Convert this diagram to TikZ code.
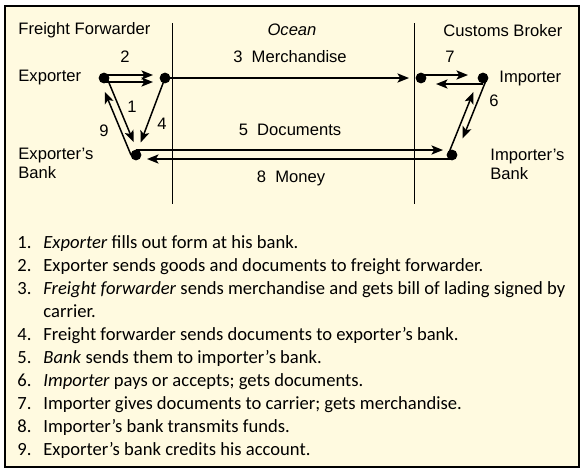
\documentclass[tikz,border=0pt]{standalone}
\usepackage{fontspec}
\setsansfont{Liberation Sans}
\newfontfamily\listfont{Carlito}
\usetikzlibrary{arrows.meta}
\definecolor{cream}{RGB}{255,250,224}

\begin{document}
\begin{tikzpicture}[
    x=0.5pt, y=-0.5pt,
    >={Stealth[length=5.8pt, width=4.6pt, inset=1.4pt]},
    dot/.style={circle, fill=black, inner sep=0pt, minimum size=5.4pt},
    flow/.style={->, line width=0.75pt},
    divider/.style={line width=0.5pt},
    heading/.style={font=\fontsize{8.3}{9.6}\selectfont\sffamily, inner sep=0pt},
    party/.style={font=\fontsize{8.3}{9.6}\selectfont\sffamily, inner sep=0pt, align=left, anchor=west},
    steplabel/.style={font=\fontsize{8.3}{9.6}\selectfont\sffamily, inner sep=0pt},
    listitem/.style={font=\fontsize{9.3}{11}\selectfont\listfont, inner sep=0pt, anchor=base west}
]
    \useasboundingbox[fill=white] (0,0) rectangle (583,472);
    \draw[line width=0.75pt, fill=cream] (5,6) rectangle (579,467);

    % column headings and dividers
    \node[heading, anchor=west] at (18,30) (ffhead) {Freight Forwarder};
    \node[heading] at (292,30) (oceanhead) {\itshape Ocean};
    \node[heading, anchor=west] at (443,31) (cbhead) {Customs Broker};
    \draw[divider] (172,23) -- (172,204);
    \draw[divider] (414,23) -- (414,204);

    % parties
    \node[dot] at (104,78) (exporter) {};
    \node[dot] at (165,78) (forwarder) {};
    \node[dot] at (136,155) (expbank) {};
    \node[dot] at (421,78) (customs) {};
    \node[dot] at (483,78) (importer) {};
    \node[dot] at (452,155) (impbank) {};

    \node[party] at (18,78) (exportertext) {Exporter};
    \node[party] at (18,163) (expbanktext) {Exporter's\\Bank};
    \node[party] at (499,79) (importertext) {Importer};
    \node[party] at (490,164) (impbanktext) {Importer's\\Bank};

    % flows
    \draw[flow, shorten >=6pt] ([yshift=1.5pt]exporter.center) -- ([yshift=1.5pt]forwarder.center);
    \draw[flow, shorten >=6pt] ([yshift=-2pt]exporter.center) -- ([yshift=-2pt]forwarder.center);
    \draw[flow, shorten >=6pt] (forwarder.center) -- (customs.center);
    \draw[flow, shorten >=7pt] ([xshift=1.5pt]exporter.center) -- ([xshift=1.5pt]expbank.center);
    \draw[flow, shorten >=7.5pt] ([xshift=-2.5pt]expbank.center) -- ([xshift=-2.5pt]exporter.center);
    \draw[flow, shorten >=6.7pt] (forwarder.center) -- (expbank.center);
    \draw[flow, shorten >=4.5pt] ([yshift=2.5pt]expbank.center) -- ([yshift=2.5pt]impbank.center);
    \draw[flow, shorten >=5.5pt] ([yshift=-2pt]impbank.center) -- ([yshift=-2pt]expbank.center);
    \draw[flow, shorten >=7.5pt] ([yshift=1.5pt]customs.center) -- ([yshift=1.5pt]importer.center);
    \draw[flow, shorten >=7.5pt] ([yshift=-3pt]importer.center) -- ([yshift=-3pt]customs.center);
    \draw[flow, shorten >=9pt] ([xshift=2pt]importer.center) -- ([xshift=2pt]impbank.center);
    \draw[flow, shorten >=7.6pt] ([xshift=-2pt]impbank.center) -- ([xshift=-2pt]importer.center);

    % step labels
    \node[steplabel] at (125,57) (s2) {2};
    \node[steplabel] at (290,57) (s3) {3\ \ Merchandise};
    \node[steplabel] at (450,57) (s7) {7};
    \node[steplabel] at (132,107) (s1) {1};
    \node[steplabel] at (162,124) (s4) {4};
    \node[steplabel] at (104,131) (s9) {9};
    \node[steplabel] at (494,101) (s6) {6};
    \node[steplabel] at (290,130) (s5) {5\ \ Documents};
    \node[steplabel] at (291,178) (s8) {8\ \ Money};

    % numbered list
    \foreach \n/\y/\txt in {
        1/243/{\textit{Exporter} fills out form at his bank.},
        2/266/{Exporter sends goods and documents to freight forwarder.},
        3/289/{\textit{Freight forwarder} sends merchandise and gets bill of lading signed by},
        4/335/{Freight forwarder sends documents to exporter’s bank.},
        5/358/{\textit{Bank} sends them to importer’s bank.},
        6/381/{\textit{Importer} pays or accepts; gets documents.},
        7/404/{Importer gives documents to carrier; gets merchandise.},
        8/427/{Importer’s bank transmits funds.},
        9/450/{Exporter’s bank credits his account.}} {
        \node[listitem] at (17,\y+5) (num\n) {\n.};
        \node[listitem] at (43,\y+5) (item\n) {\txt};
    }
    \node[listitem] at (43,317) (item3b) {carrier.};
\end{tikzpicture}
\end{document}
